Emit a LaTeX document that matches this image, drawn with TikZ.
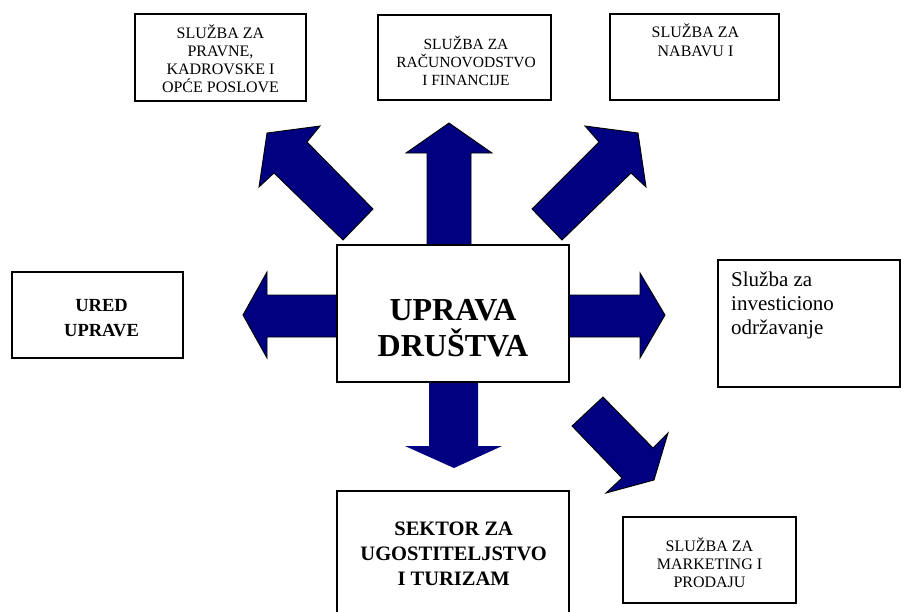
\documentclass[tikz,border=0pt]{standalone}
\usepackage{fontspec}
\setmainfont{Liberation Serif}
\definecolor{arrowblue}{RGB}{0,0,128}
\newcommand{\cstack}[1]{\vtop{\halign{\hfil##\hfil\cr#1\crcr}}}
\newcommand{\lstack}[1]{\vtop{\halign{##\hfil\cr#1\crcr}}}
\tikzset{
  boxnode/.style={draw=black, line width=1.1pt, fill=white, inner sep=0pt, rectangle},
  txt/.style={inner sep=0pt, anchor=base},
  blockarrow/.style={fill=arrowblue, draw=black, line width=0.9pt, line join=miter},
  plainarrow/.style={fill=arrowblue, draw=none},
}
\begin{document}
\begin{tikzpicture}[x=1pt,y=-1pt]
\useasboundingbox (0,0) rectangle (901,611);
\clip (0,0) rectangle (901,611);

% block arrows
\draw[blockarrow] (427,246) -- (427,153) -- (406,153) -- (449,123) -- (492,153) -- (471,153) -- (471,246) -- cycle;
\draw[blockarrow] (338,295) -- (267,295) -- (267,272) -- (243,315) -- (267,358) -- (267,337) -- (338,337) -- cycle;
\draw[blockarrow] (568,295) -- (640,295) -- (640,273) -- (665,315) -- (640,358) -- (640,337) -- (568,337) -- cycle;
\fill[plainarrow] (429,381) -- (429,446) -- (405,446) -- (454,468) -- (502,446) -- (478,446) -- (478,381) -- cycle;
\draw[blockarrow] (373,209) -- (307,142) -- (320,126) -- (267,133) -- (259,187) -- (274,173) -- (343,240) -- cycle;
\draw[blockarrow] (532,209) -- (599,142) -- (585,126) -- (638,133) -- (646,187) -- (631,173) -- (562,240) -- cycle;
\draw[blockarrow] (572,426) -- (603,397) -- (653,448) -- (668,433) -- (654,480) -- (606,493) -- (622,478) -- cycle;

% boxes
\node[boxnode, minimum width=171pt, minimum height=87pt] (pravne) at (220.5,57.5) {};
\node[boxnode, minimum width=173pt, minimum height=85pt] (racun) at (464.5,57.5) {};
\node[boxnode, minimum width=169pt, minimum height=86pt] (nabava) at (694.5,57) {};
\node[boxnode, minimum width=232pt, minimum height=137pt] (uprava) at (453,313.5) {};
\node[boxnode, minimum width=171pt, minimum height=86pt] (ured) at (97.5,315) {};
\node[boxnode, minimum width=182pt, minimum height=127pt] (invest) at (809,323.5) {};
\node[boxnode, minimum width=232pt, minimum height=149pt] (sektor) at (453,565.5) {};
\node[boxnode, minimum width=173pt, minimum height=86pt] (marketing) at (709.5,560) {};

% texts
\node[txt, font=\fontsize{16}{18}\selectfont] (tpravne) at (220.5,38.5)
  {\cstack{SLUŽBA ZA\cr PRAVNE,\cr KADROVSKE I\cr OPĆE POSLOVE}};
\node[txt, font=\fontsize{15.5}{18.3}\selectfont] (tracun) at (466,49.3)
  {\cstack{SLUŽBA ZA\cr RAČUNOVODSTVO\cr I FINANCIJE}};
\node[txt, font=\fontsize{16}{18.3}\selectfont] (tnabava) at (695.5,37.7)
  {\cstack{SLUŽBA ZA\cr NABAVU I}};
\node[txt, font=\fontsize{32}{36.7}\selectfont\bfseries] (tuprava) at (453,320)
  {\cstack{UPRAVA\cr DRUŠTVA}};
\node[txt, font=\fontsize{18.5}{25}\selectfont\bfseries] (tured) at (101.5,311.7)
  {\cstack{URED\cr UPRAVE}};
\node[txt, anchor=base west, font=\fontsize{21}{23.8}\selectfont] (tinvest) at (731,286.7)
  {\lstack{Služba za\cr investiciono\cr održavanje}};
\node[txt, font=\fontsize{20.5}{25}\selectfont\bfseries] (tsektor) at (453.7,535)
  {\cstack{SEKTOR ZA\cr UGOSTITELJSTVO\cr I TURIZAM}};
\node[txt, font=\fontsize{16}{18}\selectfont] (tmarketing) at (709.5,551.7)
  {\cstack{SLUŽBA ZA\cr MARKETING I\cr PRODAJU}};
\end{tikzpicture}
\end{document}
